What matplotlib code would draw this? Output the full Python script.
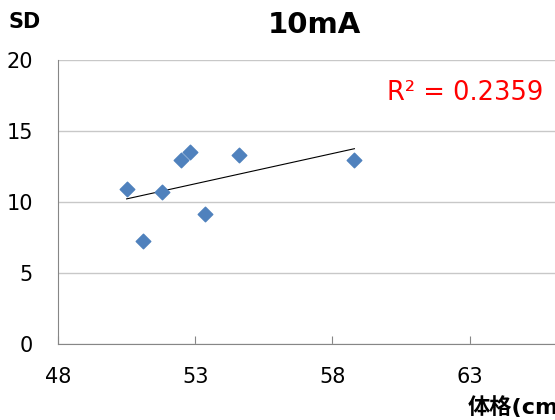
import numpy as np
import matplotlib.pyplot as plt

plt.rcParams['font.family'] = ['DejaVu Sans', 'Noto Sans CJK JP']

# data
body_size = [50.5, 51.1, 51.8, 52.5, 52.8, 53.35, 54.6, 58.8]
sd_values = [10.9, 7.3, 10.75, 13.0, 13.5, 9.2, 13.35, 13.0]
x_ticks = [48, 53, 58, 63]
y_ticks = [0, 5, 10, 15, 20]

fig = plt.figure(figsize=(5.55, 4.2), dpi=100)
ax = fig.add_axes([0.1045, 0.18, 0.989, 0.677])

ax.scatter(body_size, sd_values, marker='D', s=55, color='#4F81BD', zorder=3)

# linear trendline over the data range
k, b = np.polyfit(body_size, sd_values, 1)
xs = np.array([min(body_size), max(body_size)])
ax.plot(xs, k * xs + b, color='black', linewidth=0.8, zorder=2)

ax.set_xlim(48, 68)
ax.set_ylim(0, 20)
ax.set_xticks(x_ticks)
ax.set_yticks(y_ticks)
ax.tick_params(axis='x', direction='in', length=6, color='#868686', labelsize=15, pad=16)
ax.tick_params(axis='y', length=0, labelsize=15, pad=18)
ax.yaxis.grid(True, color='#C8C8C8', linewidth=1)
ax.set_axisbelow(True)
for s in ['top', 'right']:
    ax.spines[s].set_visible(False)
ax.spines['left'].set_color('#868686')
ax.spines['bottom'].set_color('#868686')

fig.text(0.566, 0.94, '10mA', ha='center', va='center', fontsize=21, fontweight='bold')
fig.text(0.015, 0.948, 'SD', ha='left', va='center', fontsize=15, fontweight='bold')
fig.text(0.697, 0.778, 'R² = 0.2359', ha='left', va='center', fontsize=18.5, color='red')
fig.text(0.843, 0.03, '体格(cm)', ha='left', va='center', fontsize=16, fontweight='bold')

fig.savefig('out.png', dpi=100)
